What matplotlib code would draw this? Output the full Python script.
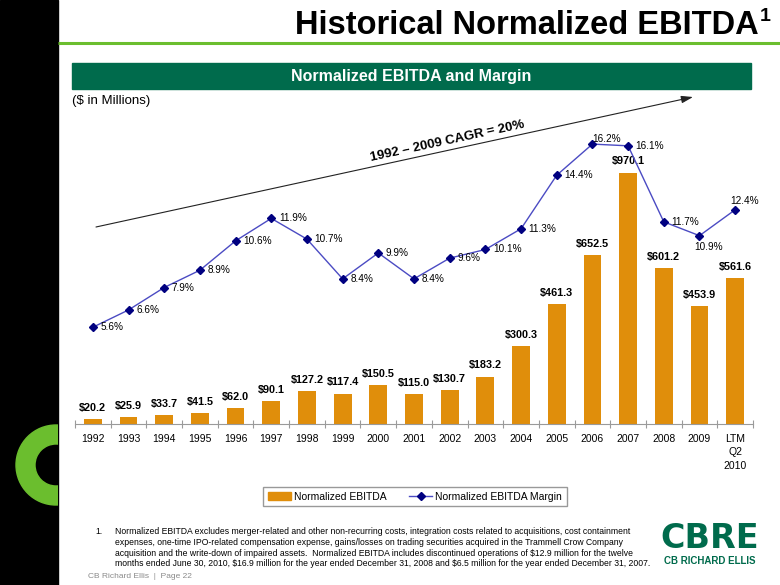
import matplotlib
matplotlib.use('Agg')
import math
import numpy as np
import matplotlib.pyplot as plt
import matplotlib.patches as patches
from matplotlib.lines import Line2D

plt.rcParams['font.family'] = ['Liberation Sans', 'DejaVu Sans']

# data
years = ['1992', '1993', '1994', '1995', '1996', '1997', '1998', '1999', '2000', '2001',
         '2002', '2003', '2004', '2005', '2006', '2007', '2008', '2009', 'LTM\nQ2\n2010']
ebitda = [20.2, 25.9, 33.7, 41.5, 62.0, 90.1, 127.2, 117.4, 150.5, 115.0,
          130.7, 183.2, 300.3, 461.3, 652.5, 970.1, 601.2, 453.9, 561.6]
margin = [5.6, 6.6, 7.9, 8.9, 10.6, 11.9, 10.7, 8.4, 9.9, 8.4,
          9.6, 10.1, 11.3, 14.4, 16.2, 16.1, 11.7, 10.9, 12.4]

footnote = ("Normalized EBITDA excludes merger-related and other non-recurring costs, integration costs related to acquisitions, cost containment\n"
            "expenses, one-time IPO-related compensation expense, gains/losses on trading securities acquired in the Trammell Crow Company\n"
            "acquisition and the write-down of impaired assets.  Normalized EBITDA includes discontinued operations of \\$12.9 million for the twelve\n"
            "months ended June 30, 2010, \\$16.9 million for the year ended December 31, 2008 and \\$6.5 million for the year ended December 31, 2007.")

BAR = '#E08E0B'
LINE = '#4B4BC3'
MARK = '#000080'
DKGREEN = '#006B4C'
LIME = '#6BBE2E'

W, H = 780, 585
fig = plt.figure(figsize=(7.8, 5.85), dpi=100)

# overlay in pixel coords for the slide decoration
ov = fig.add_axes([0, 0, 1, 1])
ov.set_xlim(0, W)
ov.set_ylim(H, 0)
ov.axis('off')

strip = patches.Rectangle((0, 0), 58, H, color='black', transform=ov.transData)
ov.add_patch(strip)
ring = patches.Wedge((56, 465), 40, 0, 360, width=19, color=LIME)
ov.add_patch(ring)
ring.set_clip_path(strip)

ov.plot([58, W], [43, 43], color=LIME, lw=2.2, solid_capstyle='butt')
ov.text(759, 34, 'Historical Normalized EBITDA', fontsize=23.5, fontweight='bold',
        ha='right', va='baseline')
ov.text(759.5, 21, '1', fontsize=14, fontweight='bold', ha='left', va='baseline')

ov.add_patch(patches.Rectangle((72, 63), 679, 26, color=DKGREEN))
ov.text(411, 76.5, 'Normalized EBITDA and Margin', color='white', fontsize=11.5,
        fontweight='bold', ha='center', va='center')
ov.text(72, 101, '(\\$ in Millions)', fontsize=9.5, ha='left', va='center')

# CAGR arrow
x0, y0, x1, y1 = 96, 227, 693, 97
ov.annotate('', xy=(x1, y1), xytext=(x0, y0),
            arrowprops=dict(arrowstyle='-|>,head_length=0.7,head_width=0.22',
                            color='#222222', lw=0.8, shrinkA=0, shrinkB=0))
ang = math.degrees(math.atan2(y0 - y1, x1 - x0))
ov.text(449, 147, '1992 \u2013 2009 CAGR = 20%', fontsize=9.5, fontweight='bold',
        rotation=ang, rotation_mode='anchor', ha='center', va='bottom')

# footnote, footer, logo
ov.text(95, 527, '1.', fontsize=6.2, ha='left', va='top')
ov.text(115, 527, footnote, fontsize=6.2, ha='left', va='top', linespacing=1.25)
ov.text(88, 577, 'CB Richard Ellis  |  Page 22', fontsize=6, color='#8A8A8A',
        ha='left', va='center')
ov.text(710, 539, 'CBRE', fontsize=24, fontweight='bold', color=DKGREEN,
        family=['DejaVu Sans'], ha='center', va='center')
ov.text(710, 561, 'CB RICHARD ELLIS', fontsize=7, fontweight='bold', color=DKGREEN,
        ha='center', va='center')

# chart
ax = fig.add_axes([75 / W, 1 - 424 / H, 678 / W, 311 / H])
ax.patch.set_visible(False)
x = np.arange(len(years))
ax.bar(x, ebitda, width=0.5, color=BAR, zorder=2)
ax.set_xlim(-0.5, len(years) - 0.5)
ax.set_ylim(0, 1200)
for s in ['top', 'right', 'left']:
    ax.spines[s].set_visible(False)
ax.spines['bottom'].set_color('#9A9A9A')
ax.spines['bottom'].set_linewidth(0.8)
ax.set_yticks([])
ax.set_xticks(x)
ax.set_xticklabels(years, fontsize=7.5, linespacing=1.45)
ax.tick_params(axis='x', which='major', length=0, pad=7)
ax.set_xticks(np.arange(-0.5, len(years), 1), minor=True)
ax.tick_params(axis='x', which='minor', direction='inout', length=6,
               color='#9A9A9A', width=0.8)

for xi, v in zip(x, ebitda):
    ax.annotate('\\$%.1f' % v, (xi, v), xytext=(0, 8), textcoords='offset points',
                ha='center', va='center', fontsize=7.8, fontweight='bold')

ax2 = ax.twinx()
ax2.set_ylim(0, 18)
ax2.axis('off')
ax2.plot(x, margin, color=LINE, lw=1, marker='D', markersize=3.6,
         markerfacecolor=MARK, markeredgecolor=MARK, zorder=3)

spots = {14: (0, 3.6, 'left'), 17: (6.5, -8, 'center'), 18: (7, 6, 'center')}
for i, (xi, m) in enumerate(zip(x, margin)):
    dx, dy, ha = spots.get(i, (5.5, 0, 'left'))
    ax2.annotate('%.1f%%' % m, (xi, m), xytext=(dx, dy), textcoords='offset points',
                 ha=ha, va='center', fontsize=7.2)

h_bar = patches.Patch(color=BAR)
h_line = Line2D([], [], color=LINE, lw=1, marker='D', markersize=3.6,
                markerfacecolor=MARK, markeredgecolor=MARK)
fig.legend([h_bar, h_line], ['Normalized EBITDA', 'Normalized EBITDA Margin'],
           loc='center', bbox_to_anchor=(415 / W, 1 - 496.5 / H), ncol=2,
           fontsize=7.5, frameon=True, fancybox=False, edgecolor='#808080',
           handlelength=2.2, handleheight=0.8, handletextpad=0.3,
           columnspacing=2.2, borderpad=0.45, borderaxespad=0)

fig.savefig('out.png', dpi=100)
